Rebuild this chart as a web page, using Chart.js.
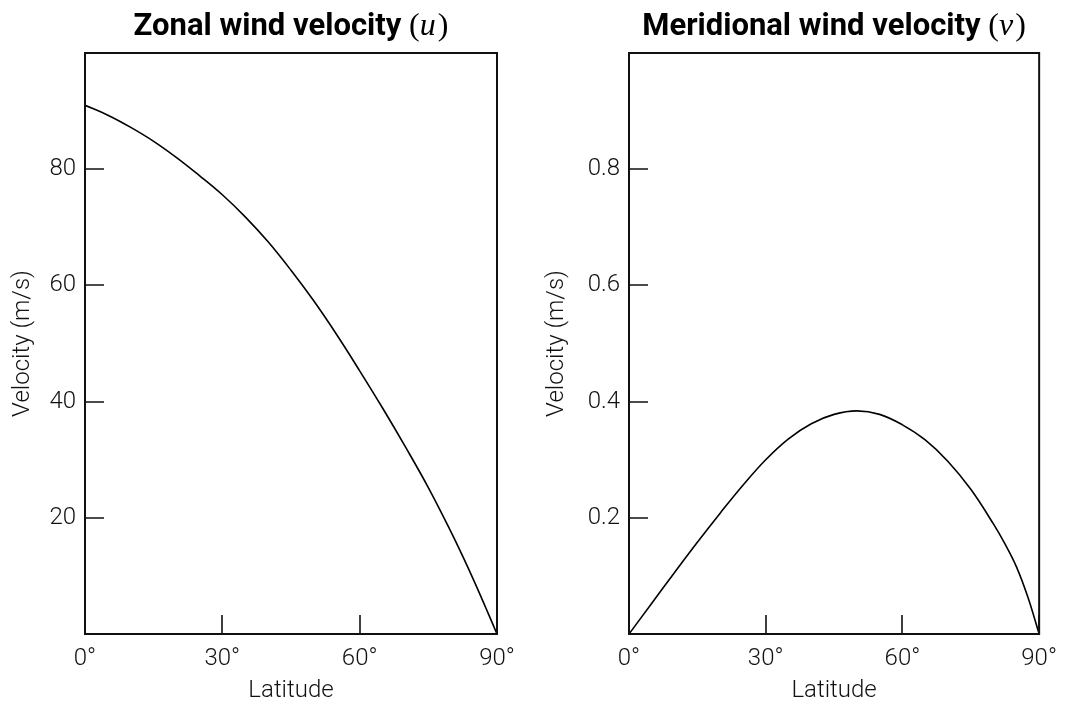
<!DOCTYPE html>
<html>
<head>
<meta charset="utf-8">
<script src="https://cdn.jsdelivr.net/npm/chart.js@4.4.1/dist/chart.umd.min.js"></script>
<style>
  html, body { margin: 0; padding: 0; background: #fff; }
  body { width: 1068px; height: 703px; position: relative; overflow: hidden; }
  .wrap { position: absolute; top: 0; width: 534px; height: 703px; }
  #w1 { left: 0; }
  #w2 { left: 534px; }
</style>
</head>
<body>
<div class="wrap" id="w1"><canvas id="c1" width="534" height="703"></canvas></div>
<div class="wrap" id="w2"><canvas id="c2" width="534" height="703"></canvas></div>
<script>
// ---- data ----
const latitudes = [0, 5, 10, 15, 20, 25, 30, 35, 40, 45, 50, 55, 60, 65, 70, 75, 80, 82.5, 85, 87.5, 90];
const zonalU = [91.0, 89.3, 87.2, 84.8, 82.0, 78.9, 75.6, 71.8, 67.5, 62.6, 57.3, 51.5, 45.3, 38.9, 32.2, 25.2, 17.5, 13.4, 9.1, 4.6, 0];
const meridionalV = [0, 0.053, 0.106, 0.158, 0.208, 0.256, 0.300, 0.336, 0.362, 0.378, 0.384, 0.378, 0.360, 0.334, 0.297, 0.249, 0.189, 0.155, 0.116, 0.064, 0];
const xTicks = [0, 30, 60, 90];
const yTicksU = [20, 40, 60, 80];
const yTicksV = [0.2, 0.4, 0.6, 0.8];
const titleU = ['Zonal wind velocity', 'u'];
const titleV = ['Meridional wind velocity', 'v'];
const xTitle = 'Latitude';
const yTitle = 'Velocity (m/s)';

const FONT = 'Roboto';
const TICK_LEN = 19;
const TEXT = '#111';

const framePlugin = {
  id: 'frameTicks',
  afterDatasetsDraw(chart, args, opts) {
    const ctx = chart.ctx, a = chart.chartArea;
    const xs = chart.scales.x, ys = chart.scales.y;
    ctx.save();
    ctx.strokeStyle = '#111';
    ctx.lineWidth = 1.6;
    ctx.beginPath();
    opts.xt.forEach(v => {
      const px = Math.round(xs.getPixelForValue(v));
      ctx.moveTo(px, a.bottom);
      ctx.lineTo(px, a.bottom - TICK_LEN);
    });
    opts.yt.forEach(v => {
      const py = Math.round(ys.getPixelForValue(v));
      ctx.moveTo(a.left, py);
      ctx.lineTo(a.left + TICK_LEN, py);
    });
    ctx.stroke();
    ctx.lineWidth = 2;
    ctx.strokeRect(a.left, a.top, a.right - a.left, a.bottom - a.top);
    // title
    const cx = (a.left + a.right) / 2;
    const baseY = 35;
    const boldFont = `bold 31px ${FONT}`;
    const serif = '32px "Liberation Serif"';
    const serifIt = 'italic 32px "Liberation Serif"';
    ctx.fillStyle = '#000';
    ctx.textBaseline = 'alphabetic';
    ctx.textAlign = 'left';
    ctx.font = boldFont; const w1 = ctx.measureText(opts.title[0] + ' ').width;
    ctx.font = serif; const wp = ctx.measureText('(').width; const wq = ctx.measureText(')').width;
    ctx.font = serifIt; const wv = ctx.measureText(opts.title[1]).width + 2;
    let x = cx - (w1 + wp + wv + wq) / 2;
    ctx.font = boldFont; ctx.fillText(opts.title[0] + ' ', x, baseY); x += w1;
    ctx.font = serif; ctx.fillText('(', x, baseY); x += wp;
    ctx.font = serifIt; ctx.fillText(opts.title[1], x, baseY); x += wv;
    ctx.font = serif; ctx.fillText(')', x, baseY);
    ctx.restore();
  }
};

function makeChart(id, values, yMax, yTicks, title, yWidth, rightPad) {
  const pts = latitudes.map((l, i) => ({ x: l, y: values[i] }));
  return new Chart(document.getElementById(id), {
    type: 'line',
    data: { datasets: [{
      data: pts,
      borderColor: '#000',
      borderWidth: 1.6,
      pointRadius: 0,
      fill: false,
      tension: 0.4
    }] },
    options: {
      responsive: false,
      animation: false,
      events: [],
      layout: { padding: { top: 53, right: rightPad, left: 0, bottom: 0 } },
      plugins: {
        legend: { display: false },
        title: { display: false },
        tooltip: { enabled: false },
        frameTicks: { xt: xTicks, yt: yTicks, title: title }
      },
      scales: {
        x: {
          type: 'linear', min: 0, max: 90,
          grid: { display: false, drawTicks: false },
          border: { display: false },
          afterBuildTicks: s => { s.ticks = xTicks.map(v => ({ value: v })); },
          afterFit: s => { s.height = 69; },
          ticks: {
            padding: 11, color: TEXT,
            font: { family: FONT, size: 24, weight: '300' },
            callback: v => v + '°', maxRotation: 0, autoSkip: false
          },
          title: {
            display: true, text: xTitle, color: TEXT,
            font: { family: FONT, size: 24, weight: '300', lineHeight: 1.0 },
            padding: { top: 0, bottom: 0 }
          }
        },
        y: {
          type: 'linear', min: 0, max: yMax,
          grid: { display: false, drawTicks: false },
          border: { display: false },
          afterBuildTicks: s => { s.ticks = yTicks.map(v => ({ value: v })); },
          afterFit: s => { s.width = yWidth; },
          ticks: {
            padding: 9, color: TEXT,
            font: { family: FONT, size: 24, weight: '300' },
            callback: v => String(v), autoSkip: false
          },
          title: {
            display: true, text: yTitle, color: TEXT,
            font: { family: FONT, size: 24, weight: '300' },
            padding: { top: 9, bottom: 0 }
          }
        }
      }
    },
    plugins: [framePlugin]
  });
}

makeChart('c1', zonalU, 100, yTicksU, titleU, 85, 37);
makeChart('c2', meridionalV, 1.0, yTicksV, titleV, 95, 27);
</script>
</body>
</html>
